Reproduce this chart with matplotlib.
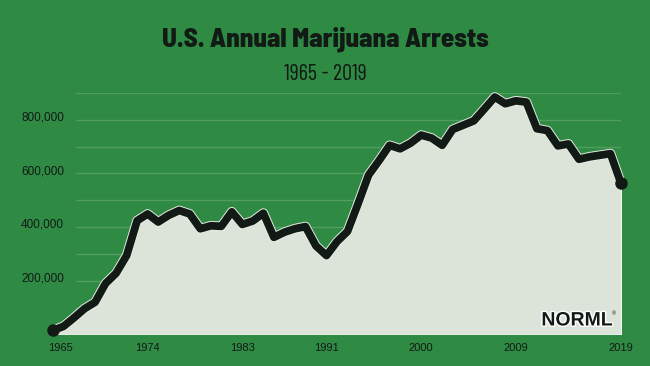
import matplotlib
matplotlib.use('Agg')
from matplotlib import pyplot as plt
from matplotlib import patheffects as pe
from matplotlib import transforms

# annual marijuana arrests
years = list(range(1965, 2020))
arrests = [15000, 30000, 62000, 96000, 120000, 190000, 228000, 294000, 424000, 449000,
           419000, 444000, 462000, 449000, 394000, 405000, 403000, 457000, 410000, 423000,
           452000, 362000, 381000, 394000, 402000, 330000, 294000, 346000, 384000, 487000,
           594000, 648000, 705000, 692000, 713000, 743000, 732000, 705000, 764000, 780000,
           796000, 840000, 885000, 860000, 871000, 866000, 767000, 760000, 703000, 710000,
           653000, 662000, 668000, 674000, 563000]

ytick_vals = [200000, 400000, 600000, 800000]
ytick_labels = ['200,000', '400,000', '600,000', '800,000']
grid_vals = [100000, 200000, 300000, 400000, 500000, 600000, 700000, 800000, 900000]
xtick_years = [1965, 1974, 1983, 1991, 2000, 2009, 2019]

GREEN = '#2f8a44'
GRID = '#4f9e5e'
FILL = '#dce3d8'
INK = '#111a15'

plt.rcParams['font.family'] = ['Liberation Sans', 'DejaVu Sans']

fig = plt.figure(figsize=(6.5, 3.66), dpi=100, facecolor=GREEN)
ax = fig.add_axes([53 / 650, 1 - 334.4 / 366, 568 / 650, 241.4 / 366])
ax.set_facecolor('none')
ax.set_xlim(1965, 2019)
ax.set_ylim(0, 900000)
ax.axis('off')

for g in grid_vals:
    ax.axhline(g, xmin=23 / 568, xmax=567 / 568, color=GRID, lw=1.0, zorder=1)

ax.fill_between(years, arrests, 0, color=FILL, edgecolor='#f4f6f2', lw=0.8, zorder=2)
line, = ax.plot(years, arrests, color=INK, lw=5.6, solid_joinstyle='round',
                solid_capstyle='round', zorder=3, clip_on=False)
line.set_path_effects([pe.Stroke(linewidth=7.0, foreground='#e6ece2'), pe.Normal()])
ax.plot([years[0], years[-1]], [arrests[0], arrests[-1]], 'o', color=INK, ms=8,
        zorder=4, clip_on=False)

# y labels sit left of the plot
ytr = transforms.blended_transform_factory(fig.transFigure, ax.transData)
for v, lab in zip(ytick_vals, ytick_labels):
    ax.text(64 / 650, v + 8000, lab, transform=ytr, ha='right', va='center',
            fontsize=8.5, color=INK)

xtr = transforms.blended_transform_factory(ax.transData, fig.transFigure)
for yr in xtick_years:
    if yr == 1965:
        ax.text(yr - 0.5, 1 - 348 / 366, str(yr), transform=xtr, ha='left', va='center',
                fontsize=8, color=INK)
    else:
        ax.text(yr, 1 - 348 / 366, str(yr), transform=xtr, ha='center', va='center',
                fontsize=8, color=INK)

title = fig.text(0.5, 1 - 39 / 366, 'U.S. Annual Marijuana Arrests', ha='center',
                 va='center', fontsize=20, fontweight='heavy',
                 family=['Barlow Semi Condensed', 'DejaVu Sans'], color=INK)
sub = fig.text(0.5, 1 - 74 / 366, '1965 - 2019', ha='center', va='center',
               fontsize=13.5, family=['Barlow Condensed', 'DejaVu Sans'], color=INK)

# fit the title texts to the widths they have in the original
renderer = fig.canvas.get_renderer()
for t, target in [(title, 326), (sub, 83)]:
    w = t.get_window_extent(renderer).width
    t.set_fontsize(t.get_fontsize() * target / w)

logo = fig.text(577 / 650, 1 - 321 / 366, 'NORML', ha='center', va='center',
                fontsize=14, fontweight='bold', color=INK)
logo.set_path_effects([pe.Stroke(linewidth=2, foreground='white'), pe.Normal()])
fig.text(612 / 650, 1 - 314 / 366, '®', ha='left', va='center', fontsize=4, color=INK)

fig.savefig('out.png', dpi=100, facecolor=GREEN)
